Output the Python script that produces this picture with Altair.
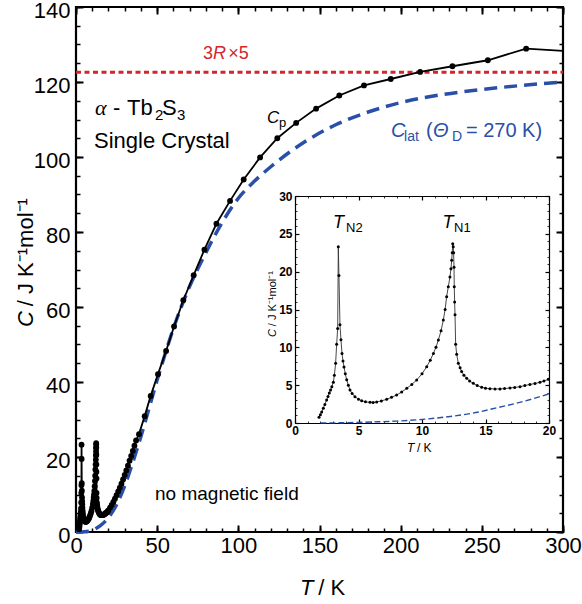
import altair as alt
import pandas as pd

# ---------------- data ----------------
# low-temperature Cp (inset, also part of the main curve)
inset_T = [1.89, 2.0, 2.1, 2.23, 2.35, 2.49, 2.6, 2.7, 2.8, 2.9, 3.02, 3.1, 3.2, 3.28, 3.36,
           3.41, 3.46, 3.54, 3.62, 3.70, 3.78, 3.86, 3.96, 4.07, 4.2, 4.33, 4.5, 4.72, 5.0,
           5.25, 5.55, 5.91, 6.15, 6.43, 6.8, 7.22, 7.6, 8.0, 8.4, 8.8, 9.2, 9.58, 10.0,
           10.37, 10.65, 10.9, 11.1, 11.29, 11.5, 11.68, 11.82, 11.94, 12.07, 12.2, 12.28,
           12.34, 12.38, 12.42, 12.46, 12.49, 12.52, 12.54, 12.57, 12.6, 12.65, 12.73, 12.86,
           13.0, 13.12, 13.3, 13.52, 13.75, 14.04, 14.35, 14.7, 15.0, 15.35, 15.75, 16.14,
           16.5, 16.93, 17.3, 17.72, 18.1, 18.5, 18.9, 19.29, 19.6, 19.95]
inset_C = [0.75, 1.1, 1.45, 1.94, 2.45, 3.04, 3.5, 3.95, 4.35, 4.8, 5.4, 6.3, 7.9, 10.4, 12.5,
           23.3, 19.5, 13.0, 11.0, 9.2, 8.2, 7.4, 6.5, 5.7, 5.0, 4.36, 3.9, 3.48, 3.15,
           2.95, 2.8, 2.73, 2.72, 2.78, 2.92, 3.13, 3.4, 3.7, 4.1, 4.58, 5.1, 5.68, 6.5,
           7.44, 8.3, 9.2, 10.0, 10.97, 12.2, 13.6, 15.0, 16.7, 18.0, 19.3, 20.4,
           21.5, 22.5, 23.7, 23.3, 22.5, 20.6, 18.0, 16.0, 14.3, 10.4, 9.1, 7.9,
           7.3, 6.8, 6.3, 5.9, 5.55, 5.24, 4.95, 4.71, 4.6, 4.54, 4.5, 4.5,
           4.55, 4.63, 4.7, 4.8, 4.95, 5.1, 5.22, 5.38, 5.55, 5.77]

# higher-temperature Cp (main panel)
hi_T = [21, 22, 23, 24, 25, 26, 27, 28, 29, 30, 31, 32, 33, 34, 35, 36, 37, 38.8, 42.3, 46.0,
        50.5, 55.5, 60.4, 66.1, 72.5, 79.1, 86.5, 94.9, 103.3, 113.4, 124.0, 135.6, 147.9,
        162.2, 177.4, 193.9, 212.0, 231.9, 253.7, 277.3]
hi_C = [6.5, 7.2, 8.0, 8.9, 9.8, 10.8, 11.8, 12.9, 14.0, 15.2, 16.4, 17.7, 19.0, 20.3, 21.6,
        23.0, 24.4, 26.1, 30.9, 36.3, 42.1, 48.3, 54.8, 61.8, 68.5, 75.3, 82.2, 88.3, 94.0,
        99.9, 105.0, 109.1, 112.9, 116.4, 119.1, 120.8, 122.7, 124.2, 125.8, 128.9]
end_T = [300]
end_C = [128.3]

# lattice contribution (Debye, 270 K)
lat_T = [0, 5, 10, 15, 20, 25, 30, 35, 40, 45, 50, 55, 60, 65, 70, 80, 90, 100, 110, 120,
         140, 160, 180, 200, 225, 250, 275, 300]
lat_C = [0, 0.06, 0.47, 1.7, 3.85, 7.3, 12.3, 18.6, 25.5, 33.0, 40.5, 47.6, 54.3, 60.2, 65.5,
         74.5, 82.5, 89.0, 93.6, 97.4, 103.8, 108.6, 112.0, 114.5, 116.6, 118.0, 119.1, 120.0]
lat_in_T = [2, 4, 6, 8, 10, 12, 14, 16, 18, 20]
lat_in_C = [0.01, 0.04, 0.13, 0.25, 0.47, 0.82, 1.3, 2.05, 2.85, 3.85]

dulong_petit = 122.6   # 3R x 5 level as drawn
ref_T = [0, 300]

main_x_ticks = [0, 50, 100, 150, 200, 250, 300]
main_x_minor = list(range(0, 301, 10))
main_y_ticks = [0, 20, 40, 60, 80, 100, 120, 140]
main_y_minor = list(range(0, 141, 5))
in_x_ticks = [0, 5, 10, 15, 20]
in_x_minor = list(range(0, 21, 1))
in_y_ticks = [0, 5, 10, 15, 20, 25, 30]
in_y_minor = list(range(0, 31, 1))

# annotation pieces: (text, x, y, fontSize, fontStyle, color, font, angle, panel)
BLACK, RED, BLUE = "#000000", "#d3262c", "#2a4fa8"
SANS, SERIF = "Liberation Sans", "Liberation Serif"
annotations = [
    ("3", 78.2, 126.1, 18, "normal", RED, SANS, 0, "main"),
    ("R", 84.4, 126.1, 18, "italic", RED, SANS, 0, "main"),
    ("×", 93.8, 126.1, 18, "normal", RED, SANS, 0, "main"),
    ("5", 100.2, 126.1, 18, "normal", RED, SANS, 0, "main"),
    ("α", 11.7, 111.2, 22, "italic", BLACK, SERIF, 0, "main"),
    ("-", 22.8, 111.2, 22, "normal", BLACK, SANS, 0, "main"),
    ("Tb", 31.4, 111.2, 22, "normal", BLACK, SANS, 0, "main"),
    ("2", 48.7, 109.9, 15, "normal", BLACK, SANS, 0, "main"),
    ("S", 53.0, 111.2, 22, "normal", BLACK, SANS, 0, "main"),
    ("3", 62.2, 109.9, 15, "normal", BLACK, SANS, 0, "main"),
    ("Single Crystal", 11.1, 102.4, 22, "normal", BLACK, SANS, 0, "main"),
    ("C", 117.7, 109.1, 17, "italic", BLACK, SANS, 0, "main"),
    ("p", 125.1, 108.0, 13, "normal", BLACK, SANS, 0, "main"),
    ("C", 194.0, 105.3, 20, "italic", BLUE, SANS, 0, "main"),
    ("lat", 202.1, 104.3, 14, "normal", BLUE, SANS, 0, "main"),
    ("(", 215.6, 105.3, 20, "normal", BLUE, SANS, 0, "main"),
    ("Θ", 219.9, 105.3, 20, "italic", BLUE, SANS, 0, "main"),
    ("D", 231.6, 104.3, 14, "normal", BLUE, SANS, 0, "main"),
    ("= 270 K)", 240.2, 105.3, 20, "normal", BLUE, SANS, 0, "main"),
    ("no magnetic field", 48.7, 8.5, 19, "normal", BLACK, SANS, 0, "main"),
    ("T", 138.0, -16.8, 22, "italic", BLACK, SANS, 0, "main"),
    ("/ K", 149.3, -16.8, 22, "normal", BLACK, SANS, 0, "main"),
    ("C", -26.5, 54.7, 22, "italic", BLACK, SANS, 270, "main"),
    ("/ J K⁻¹mol⁻¹", -26.5, 60.2, 22, "normal", BLACK, SANS, 270, "main"),
    ("T", 2.99, 25.77, 18, "italic", BLACK, SANS, 0, "inset"),
    ("N2", 4.02, 25.24, 13, "normal", BLACK, SANS, 0, "inset"),
    ("T", 11.61, 25.77, 18, "italic", BLACK, SANS, 0, "inset"),
    ("N1", 12.52, 25.24, 13, "normal", BLACK, SANS, 0, "inset"),
    ("T", 8.82, -3.79, 12, "italic", BLACK, SANS, 0, "inset"),
    ("/ K", 9.6, -3.79, 12, "normal", BLACK, SANS, 0, "inset"),
    ("C", -1.5, 11.37, 11, "italic", BLACK, SANS, 270, "inset"),
    ("/ J K⁻¹mol⁻¹", -1.5, 12.8, 11, "normal", BLACK, SANS, 270, "inset"),
]

# ---------------- geometry ----------------
W, H = 487, 525
IN_X = [219, 473]     # inset x range inside the main plot area
IN_Y = [416, 189]     # inset y range inside the main plot area


def sx_main():
    return alt.Scale(domain=[0, 300], range=[0, W], nice=False, zero=False)


def sy_main():
    return alt.Scale(domain=[0, 140], range=[H, 0], nice=False, zero=False)


def sx_in():
    return alt.Scale(domain=[0, 20], range=IN_X, nice=False, zero=False)


def sy_in():
    return alt.Scale(domain=[0, 30], range=IN_Y, nice=False, zero=False)


scales = {"main": (sx_main, sy_main), "inset": (sx_in, sy_in)}

layers = []


def data_layer(df, mark, props, panel):
    fx, fy = scales[panel]
    base = alt.Chart(df)
    marked = base.mark_line(**props) if mark == "line" else base.mark_circle(**props)
    return marked.encode(
        x=alt.X("T:Q", scale=fx(), axis=None),
        y=alt.Y("C:Q", scale=fy(), axis=None))


main_line_df = pd.DataFrame({"T": inset_T + hi_T + end_T, "C": inset_C + hi_C + end_C})
main_pts_df = pd.DataFrame({"T": inset_T + hi_T, "C": inset_C + hi_C})
inset_df = pd.DataFrame({"T": inset_T, "C": inset_C})
lat_df = pd.DataFrame({"T": lat_T, "C": lat_C})
lat_in_df = pd.DataFrame({"T": lat_in_T, "C": lat_in_C})
ref_df = pd.DataFrame({"T": ref_T, "C": [dulong_petit] * len(ref_T)})

# main panel curves
layers.append(data_layer(ref_df, "line", dict(color=RED, strokeWidth=3, strokeDash=[5, 3.5]), "main"))
layers.append(data_layer(lat_df, "line", dict(color=BLUE, strokeWidth=3.5, strokeDash=[13, 7],
                                              interpolate="monotone"), "main"))
layers.append(data_layer(main_line_df, "line", dict(color=BLACK, strokeWidth=1.8), "main"))
layers.append(data_layer(main_pts_df, "circle", dict(color=BLACK, size=34, opacity=1), "main"))

# inset curves
layers.append(data_layer(lat_in_df, "line", dict(color=BLUE, strokeWidth=1.4, strokeDash=[6, 3],
                                                 interpolate="monotone"), "inset"))
layers.append(data_layer(inset_df, "line", dict(color="#333333", strokeWidth=0.9), "inset"))
layers.append(data_layer(inset_df, "circle", dict(color=BLACK, size=9, opacity=1), "inset"))

# annotations
for (t, x, y, fs, st, col, fnt, ang, panel) in annotations:
    df = pd.DataFrame({"x": [x], "y": [y], "t": [t]})
    fx, fy = scales[panel]
    kw = dict(align="left", baseline="alphabetic", font=fnt, fontSize=fs,
              fontStyle=st, color=col)
    if ang:
        kw["angle"] = ang
    layers.append(alt.Chart(df).mark_text(**kw).encode(
        x=alt.X("x:Q", scale=fx(), axis=None),
        y=alt.Y("y:Q", scale=fy(), axis=None),
        text="t:N"))

# ---------------- axes (each as an invisible layer with its own axis) ----------------
dummy = pd.DataFrame({"v": [0]})


def axis_layer(channel, scale, **ax):
    base = dict(grid=False, title=None, labelFlush=False, labelOverlap=False, labelBound=False)
    base.update(ax)
    if channel == "x":
        enc = dict(x=alt.X("v:Q", scale=scale, axis=alt.Axis(**base)))
    else:
        enc = dict(y=alt.Y("v:Q", scale=scale, axis=alt.Axis(**base)))
    return alt.Chart(dummy).mark_point(opacity=0).encode(**enc)


def tick_axis(channel, scale, orient, values, size, width, offset):
    return axis_layer(channel, scale, orient=orient, values=values, domain=False, labels=False,
                      ticks=True, tickSize=size, tickWidth=width, tickColor=BLACK,
                      offset=offset - size)


# main: labels
layers.append(axis_layer("x", sx_main(), orient="bottom", values=main_x_ticks, domain=False,
                         ticks=False, labels=True, labelFont=SANS, labelFontSize=22,
                         labelColor=BLACK, labelPadding=3))
layers.append(axis_layer("y", sy_main(), orient="left", values=main_y_ticks, domain=False,
                         ticks=False, labels=True, labelFont=SANS, labelFontSize=22,
                         labelColor=BLACK, labelPadding=6, labelOffset=3))
# main: inward ticks on all four sides
for orient in ["bottom", "top"]:
    layers.append(tick_axis("x", sx_main(), orient, main_x_ticks, 7, 2, 0))
    layers.append(tick_axis("x", sx_main(), orient, main_x_minor, 4, 1.5, 0))
for orient in ["left", "right"]:
    layers.append(tick_axis("y", sy_main(), orient, main_y_ticks, 7, 2, 0))
    layers.append(tick_axis("y", sy_main(), orient, main_y_minor, 4, 1.5, 0))

# inset frame (domain lines) and labels
off_b = -(H - IN_Y[0])
off_t = -IN_Y[1]
off_l = -IN_X[0]
off_r = -(W - IN_X[1])
frame = dict(domain=True, domainColor=BLACK, domainWidth=1.2)
layers.append(axis_layer("x", sx_in(), orient="bottom", values=in_x_ticks, ticks=False,
                         labels=True, labelFont=SANS, labelFontSize=12, labelFontWeight="bold",
                         labelColor=BLACK, labelPadding=2, offset=off_b, **frame))
layers.append(axis_layer("x", sx_in(), orient="top", values=in_x_ticks, ticks=False,
                         labels=False, offset=off_t, **frame))
layers.append(axis_layer("y", sy_in(), orient="left", values=in_y_ticks, ticks=False,
                         labels=True, labelFont=SANS, labelFontSize=12, labelFontWeight="bold",
                         labelColor=BLACK, labelPadding=3, offset=off_l, **frame))
layers.append(axis_layer("y", sy_in(), orient="right", values=in_y_ticks, ticks=False,
                         labels=False, offset=off_r, **frame))
for orient, off in [("bottom", off_b), ("top", off_t)]:
    layers.append(tick_axis("x", sx_in(), orient, in_x_ticks, 4, 1.2, off))
    layers.append(tick_axis("x", sx_in(), orient, in_x_minor, 2, 0.8, off))
for orient, off in [("left", off_l), ("right", off_r)]:
    layers.append(tick_axis("y", sy_in(), orient, in_y_ticks, 4, 1.2, off))
    layers.append(tick_axis("y", sy_in(), orient, in_y_minor, 2, 0.8, off))

chart = alt.layer(*layers).resolve_scale(x="independent", y="independent").properties(
    width=W, height=H,
    autosize=alt.AutoSizeParams(type="none"),
    padding={"left": 76, "top": 7, "right": 19, "bottom": 72},
    background="white",
).configure_view(stroke=BLACK, strokeWidth=2.2)

chart.save("out.html", embed_options={"renderer": "svg", "actions": False})
